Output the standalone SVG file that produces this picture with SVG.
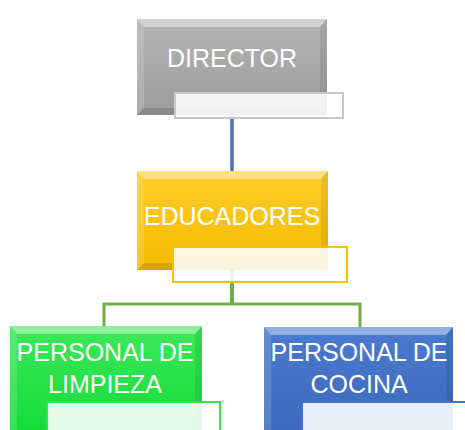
<svg xmlns="http://www.w3.org/2000/svg" width="465" height="430" viewBox="0 0 465 430">
<defs>
<linearGradient id="gGray" x1="0" y1="0" x2="0" y2="1"><stop offset="0" stop-color="#b4b4b4"/><stop offset="1" stop-color="#9c9c9c"/></linearGradient>
<linearGradient id="gGold" x1="0" y1="0" x2="0" y2="1"><stop offset="0" stop-color="#ffcd2a"/><stop offset="1" stop-color="#f5bb00"/></linearGradient>
<linearGradient id="gGreen" x1="0" y1="0" x2="0" y2="1"><stop offset="0" stop-color="#3ee85a"/><stop offset="1" stop-color="#12dc38"/></linearGradient>
<linearGradient id="gBlue" x1="0" y1="0" x2="0" y2="1"><stop offset="0" stop-color="#4a7bd0"/><stop offset="1" stop-color="#3d68bd"/></linearGradient>
</defs>
<style>
.lbl{font-family:"Liberation Sans",Arial,sans-serif;font-size:25px;fill:#ffffff;text-anchor:middle}
.hi{fill:#ffffff;opacity:0.4}
.hl{fill:#ffffff;opacity:0.15}
.sh{fill:#000000;opacity:0.08}
.sb{fill:#000000;opacity:0.12}
.sub{fill:#ffffff;fill-opacity:0.88;stroke-width:2}
</style>
<g id="connectors" fill="none">
<line x1="232" y1="116" x2="232" y2="172" stroke="#4a6fb5" stroke-width="3.5"/>
<polyline points="232,270 232,304" stroke="#70ad47" stroke-width="4"/>
<polyline points="104,326 104,304 360,304 360,327" stroke="#70ad47" stroke-width="3"/>
</g>
<g id="director">
<rect x="137" y="19" width="190" height="96" fill="url(#gGray)"/>
<polygon class="hi" points="137,19 327,19 320,27 144,27"/>
<polygon class="hl" points="137,19 144,27 144,108 137,115"/>
<polygon class="sh" points="327,19 327,115 320,108 320,27"/>
<polygon class="sb" points="137,115 327,115 320,108 144,108"/>
<text class="lbl" x="232" y="67">DIRECTOR</text>
<rect class="sub" x="175" y="93" width="168" height="25" stroke="#c8c8c8"/>
</g>
<g id="educadores">
<rect x="137" y="171" width="191" height="99" fill="url(#gGold)"/>
<polygon class="hi" points="137,171 328,171 321,179 144,179"/>
<polygon class="hl" points="137,171 144,179 144,263 137,270"/>
<polygon class="sh" points="328,171 328,270 321,263 321,179"/>
<polygon class="sb" points="137,270 328,270 321,263 144,263"/>
<text class="lbl" x="232" y="225">EDUCADORES</text>
<rect class="sub" x="173" y="247" width="174" height="35" stroke="#ffc000"/>
</g>
<g id="limpieza">
<rect x="10" y="326" width="192" height="106" fill="url(#gGreen)"/>
<polygon class="hi" points="10,326 202,326 195,334 17,334"/>
<polygon class="hl" points="10,326 17,334 17,432 10,432"/>
<polygon class="sh" points="202,326 202,432 195,432 195,334"/>
<text class="lbl" x="105" y="361">PERSONAL DE</text>
<text class="lbl" x="105" y="393">LIMPIEZA</text>
<rect class="sub" x="47" y="402" width="173" height="32" stroke="#2ee84c"/>
</g>
<g id="cocina">
<rect x="264" y="327" width="189" height="105" fill="url(#gBlue)"/>
<polygon class="hi" points="264,327 453,327 446,335 271,335"/>
<polygon class="hl" points="264,327 271,335 271,432 264,432"/>
<polygon class="sh" points="453,327 453,432 446,432 446,335"/>
<text class="lbl" x="359" y="361">PERSONAL DE</text>
<text class="lbl" x="359" y="393">COCINA</text>
<rect class="sub" x="302" y="402" width="170" height="32" stroke="#4472c4"/>
</g>
</svg>
